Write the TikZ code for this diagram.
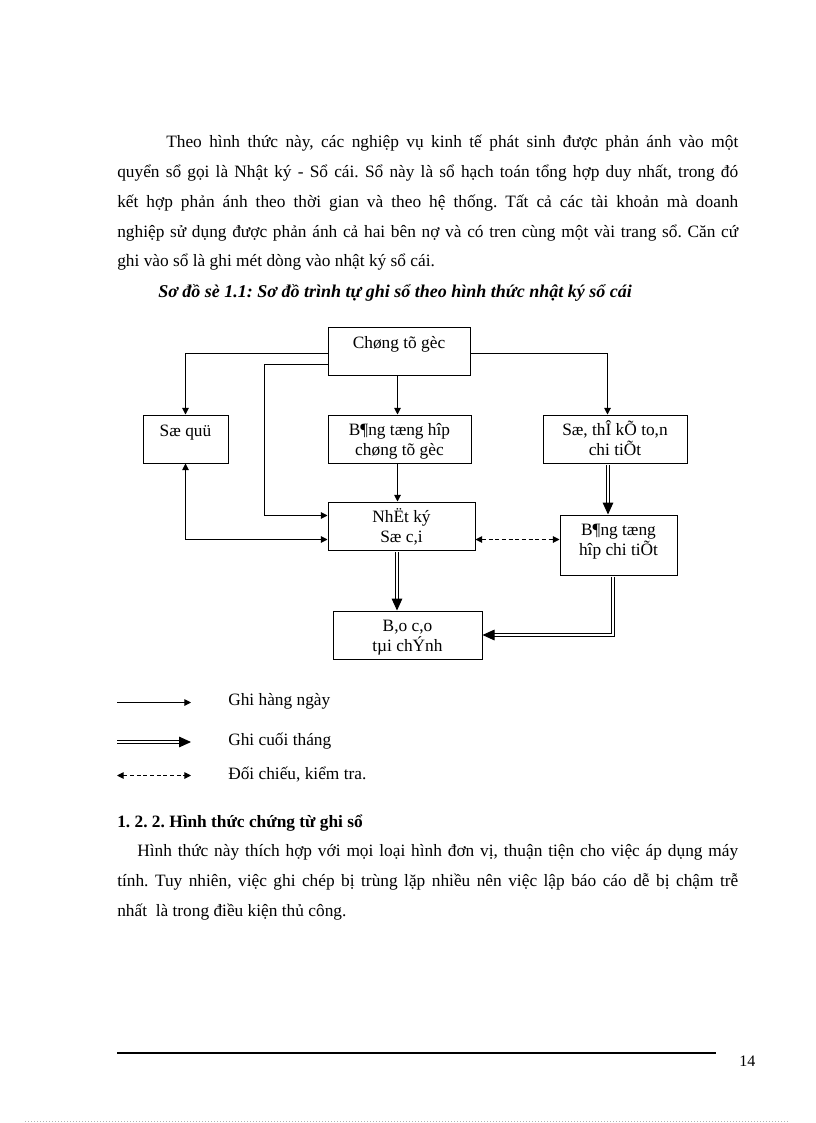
\documentclass[tikz,border=0pt]{standalone}
\usepackage{fontspec}
\setmainfont{Liberation Serif}
\usetikzlibrary{arrows.meta}
\newcommand\bodyfnt{\fontsize{13pt}{15pt}\selectfont}
\newcommand\boxfnt{\fontsize{13pt}{14.5pt}\selectfont}
% vertical placement helpers for box texts
\newcommand\tophi{\rule{0pt}{13.85pt}}
\newcommand\toplo{\rule{0pt}{10.15pt}}
\newcommand\botn{\rule[-4.35pt]{0pt}{4.35pt}}
\newcommand\botdeep{\rule[-13.35pt]{0pt}{13.35pt}}
\newcommand\botone{\rule[-14.5pt]{0pt}{14.5pt}}
\frenchspacing
\begin{document}
\begin{tikzpicture}[x=0.75pt,y=-0.75pt,
  box/.style={draw, line width=0.75pt, align=center, inner sep=0pt, font=\boxfnt},
  arr/.style={line width=0.75pt, -{Triangle[length=5pt,width=5pt]}},
  arrtwo/.style={line width=0.75pt, {Triangle[length=5pt,width=5pt]}-{Triangle[length=5pt,width=5pt]}},
  dsh/.style={arrtwo, dash pattern=on 3pt off 2pt},
  dbl/.style={line width=0.75pt, double distance=1.5pt, shorten <=1pt, -{Triangle[length=9pt,width=8pt]}},
  txt/.style={anchor=base west, inner sep=0pt, font=\bodyfnt}]
\useasboundingbox (0,0) rectangle (816,1123);
\fill[white] (0,0) rectangle (816,1123);

% paragraph 1
\node[txt] (p1) at (166,148) {\hbox to 429pt{Theo hình thức này, các nghiệp vụ kinh tế phát sinh được phản ánh vào một}};
\node[txt] (p2) at (117,178) {\hbox to 465.75pt{quyển sổ gọi là Nhật ký - Sổ cái. Sổ này là sổ hạch toán tổng hợp duy nhất, trong đó}};
\node[txt] (p3) at (117,208) {\hbox to 465.75pt{kết hợp phản ánh theo thời gian và theo hệ thống. Tất cả các tài khoản mà doanh}};
\node[txt] (p4) at (117,238) {\hbox to 465.75pt{nghiệp sử dụng được phản ánh cả hai bên nợ và có tren cùng một vài trang sổ. Căn cứ}};
\node[txt] (p5) at (117,267) {ghi vào sổ là ghi mét dòng vào nhật ký sổ cái.};
\node[txt, font=\fontsize{13.5pt}{15pt}\selectfont\bfseries\itshape] (cap) at (158,297) {Sơ đồ sè 1.1: Sơ đồ trình tự ghi sổ theo hình thức nhật ký sổ cái};

% boxes
\node[box, minimum width=106.5pt, minimum height=36pt] (ctg) at (399,351) {\toplo Chøng tõ gèc\botone};
\node[box, minimum width=63.75pt, minimum height=36pt] (sq) at (185.5,439) {\toplo Sæ quü\botone};
\node[box, minimum width=107.25pt, minimum height=36pt] (bthctg) at (399.5,439) {\tophi B¶ng tæng hîp\\chøng tõ gèc\botn};
\node[box, minimum width=108pt, minimum height=36pt] (stkt) at (615,439) {\tophi Sæ, thÎ kÕ to,n\\chi tiÕt\botn};
\node[box, minimum width=110.25pt, minimum height=36pt] (nk) at (401.5,526) {\tophi NhËt ký\\Sæ c,i\botn};
\node[box, minimum width=87.75pt, minimum height=45pt] (bthct) at (618.5,545) {\tophi B¶ng tæng\\hîp chi tiÕt\botdeep};
\node[box, minimum width=111.75pt, minimum height=36pt] (bctc) at (407.5,635) {\tophi B,o c,o\\tµi chÝnh\botn};

% helper coordinates
\coordinate (h1) at (186,353.5);
\coordinate (v1) at (264.5,364.5);
\coordinate (v2) at (264.5,515.5);
\coordinate (h2) at (186,539.5);
\coordinate (xm) at (397.5,0);
\coordinate (xmd) at (397,0);
\coordinate (xr) at (607.5,0);
\coordinate (xrd) at (608,0);
\coordinate (x3) at (613,0);

% connectors
\draw[arr] (ctg.west |- h1) -| (sq.north);
\draw[arr] (ctg.west |- v1) -- (v1) -- (v2) -- (nk.west |- v2);
\draw[arr] (ctg.east |- h1) -| (stkt.north -| xr);
\draw[arr] (ctg.south -| xm) -- (bthctg.north -| xm);
\draw[arr] (bthctg.south -| xm) -- (nk.north -| xm);
\draw[arrtwo] (sq.south) |- (nk.west |- h2);
\draw[dsh] (nk.east |- h2) -- (bthct.west |- h2);
\draw[dbl] (stkt.south -| xrd) -- (bthct.north -| xrd);
\draw[dbl] (nk.south -| xmd) -- (bctc.north -| xmd);
\draw[dbl] (bthct.south -| x3) |- (bctc.east);

% legend
\coordinate (la1) at (117,702.5); \coordinate (lb1) at (191,702.5);
\coordinate (la2) at (117,742); \coordinate (lb2) at (191,742);
\coordinate (la3) at (117,775.5); \coordinate (lb3) at (191,775.5);
\draw[arr] (la1) -- (lb1);
\draw[dbl, shorten <=0pt] (la2) -- (lb2);
\draw[dsh] (la3) -- (lb3);
\node[txt] (lg1) at (228,705) {Ghi hàng ngày};
\node[txt] (lg2) at (228,745) {Ghi cuối tháng};
\node[txt] (lg3) at (228,779) {Đối chiếu, kiểm tra.};

% section 1.2.2
\node[txt, font=\bodyfnt\bfseries] (hd) at (117,827) {1. 2. 2. Hình thức chứng từ ghi sổ};
\node[txt] (q1) at (137,856) {\hbox to 450.75pt{Hình thức này thích hợp với mọi loại hình đơn vị, thuận tiện cho việc áp dụng máy}};
\node[txt] (q2) at (117,886) {\hbox to 465.75pt{tính. Tuy nhiên, việc ghi chép bị trùng lặp nhiều nên việc lập báo cáo dễ bị chậm trễ}};
\node[txt] (q3) at (117,916) {nhất\ \ là trong điều kiện thủ công.};

% footer
\draw[line width=1.5pt] (117,1052.7) -- (716,1052.7);
\node[txt, font=\fontsize{12pt}{14pt}\selectfont] (pg) at (739,1066.5) {14};
\draw[black!30, line width=0.5pt, dash pattern=on 0.75pt off 1.5pt] (25,1121.5) -- (790,1121.5);
\end{tikzpicture}
\end{document}
